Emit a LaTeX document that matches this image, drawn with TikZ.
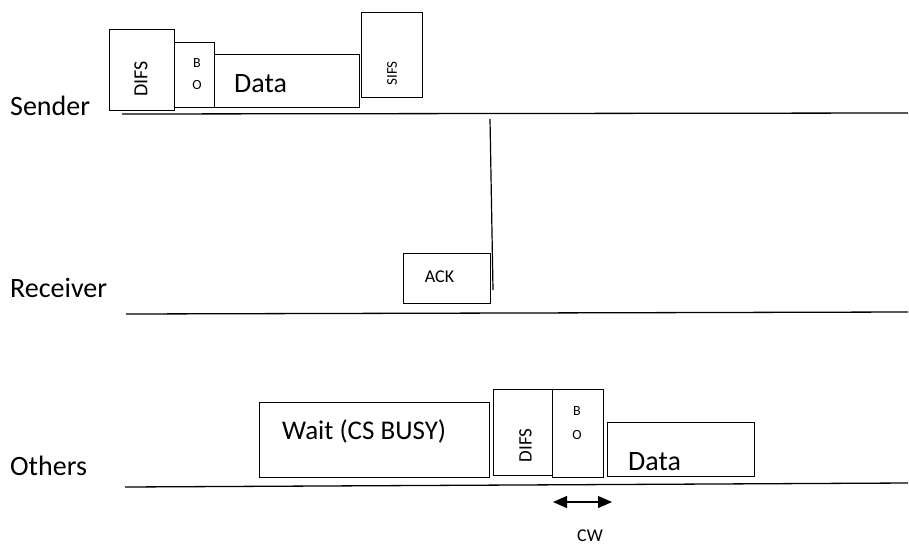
\documentclass[tikz,border=0pt]{standalone}
\usepackage{fontspec}
\setmainfont{Carlito}
\usetikzlibrary{arrows.meta}
\newcommand{\fsz}[1]{\fontsize{#1}{#1}\selectfont}
\tikzset{
  slot/.style={draw=black, line width=1pt, fill=white, inner sep=0pt},
  axis/.style={draw=black, line width=1.3pt},
  txt/.style={inner sep=0pt, anchor=center},
  lbl/.style={inner sep=0pt, anchor=base west},
}
\begin{document}
\begin{tikzpicture}[x=1pt, y=-1pt]
\useasboundingbox (0,0) rectangle (909,546);
\fill[white] (0,0) rectangle (909,546);

% ---------- time lines ----------
\coordinate (sl) at (122,114);  \coordinate (sr) at (908,113);
\coordinate (rl) at (126,314);  \coordinate (rr) at (908,312);
\coordinate (ol) at (125,487);  \coordinate (or) at (908,483);
\draw[axis] (sl) -- (sr);
\draw[axis] (rl) -- (rr);
\draw[axis] (ol) -- (or);

\node[lbl] (lsend) at (10,115) {\fsz{28}Sender};
\node[lbl] (lrecv) at (10,297) {\fsz{28}Receiver};
\node[lbl] (loth)  at (10,475) {\fsz{28}Others};

% ---------- sender ----------
\node[slot, minimum width=65pt, minimum height=81pt] (sdifs) at (141.5,69.5) {};
\node[txt] (sdifst) at (141,79) {\rotatebox{90}{\fsz{20}DIFS}};
\node[slot, minimum width=40pt, minimum height=65pt] (sbo) at (194,74.5) {};
\node[txt] (sbob) at (197,63.5) {\fsz{14}B};
\node[txt] (sboo) at (197,85) {\fsz{14}O};
\node[slot, minimum width=145pt, minimum height=53pt] (sdata) at (286.5,80.5) {};
\node[lbl] (sdatat) at (234,92) {\fsz{28}Data};
\node[slot, minimum width=61pt, minimum height=85pt] (ssifs) at (391.5,54.5) {};
\node[txt] (ssifst) at (392,73.5) {\rotatebox{90}{\fsz{15}SIFS}};

% ---------- receiver ----------
\coordinate (vtop) at (490,119);
\coordinate (vbot) at (493,290);
\draw[line width=1.2pt] (vtop) -- (vbot);
\node[slot, minimum width=87pt, minimum height=50pt] (ack) at (446.5,278) {};
\node[txt] (ackt) at (439.5,277) {\fsz{18}ACK};

% ---------- others ----------
\node[slot, minimum width=230pt, minimum height=75pt] (wait) at (374,439.5) {};
\node[lbl] (waitt) at (282,439) {\fsz{27}Wait (CS BUSY)};
\node[slot, minimum width=59pt, minimum height=86pt] (odifs) at (522.5,432) {};
\node[txt] (odifst) at (525.5,445.5) {\rotatebox{90}{\fsz{19}DIFS}};
\node[slot, minimum width=51pt, minimum height=88pt] (obo) at (577.5,433) {};
\node[txt] (obob) at (577,411) {\fsz{14}B};
\node[txt] (oboo) at (577,435) {\fsz{14}O};
\node[slot, minimum width=147pt, minimum height=54pt] (odata) at (680.5,449) {};
\node[lbl] (odatat) at (628,470) {\fsz{28}Data};

% contention window
\coordinate (cwl) at (553,502);
\coordinate (cwr) at (612,502);
\draw[line width=1.2pt, {Triangle[length=14pt,width=12pt]}-{Triangle[length=14pt,width=12pt]}] (cwl) -- (cwr);
\node[inner sep=0pt, anchor=base] (cwt) at (590,541) {\fsz{18}CW};
\end{tikzpicture}
\end{document}
